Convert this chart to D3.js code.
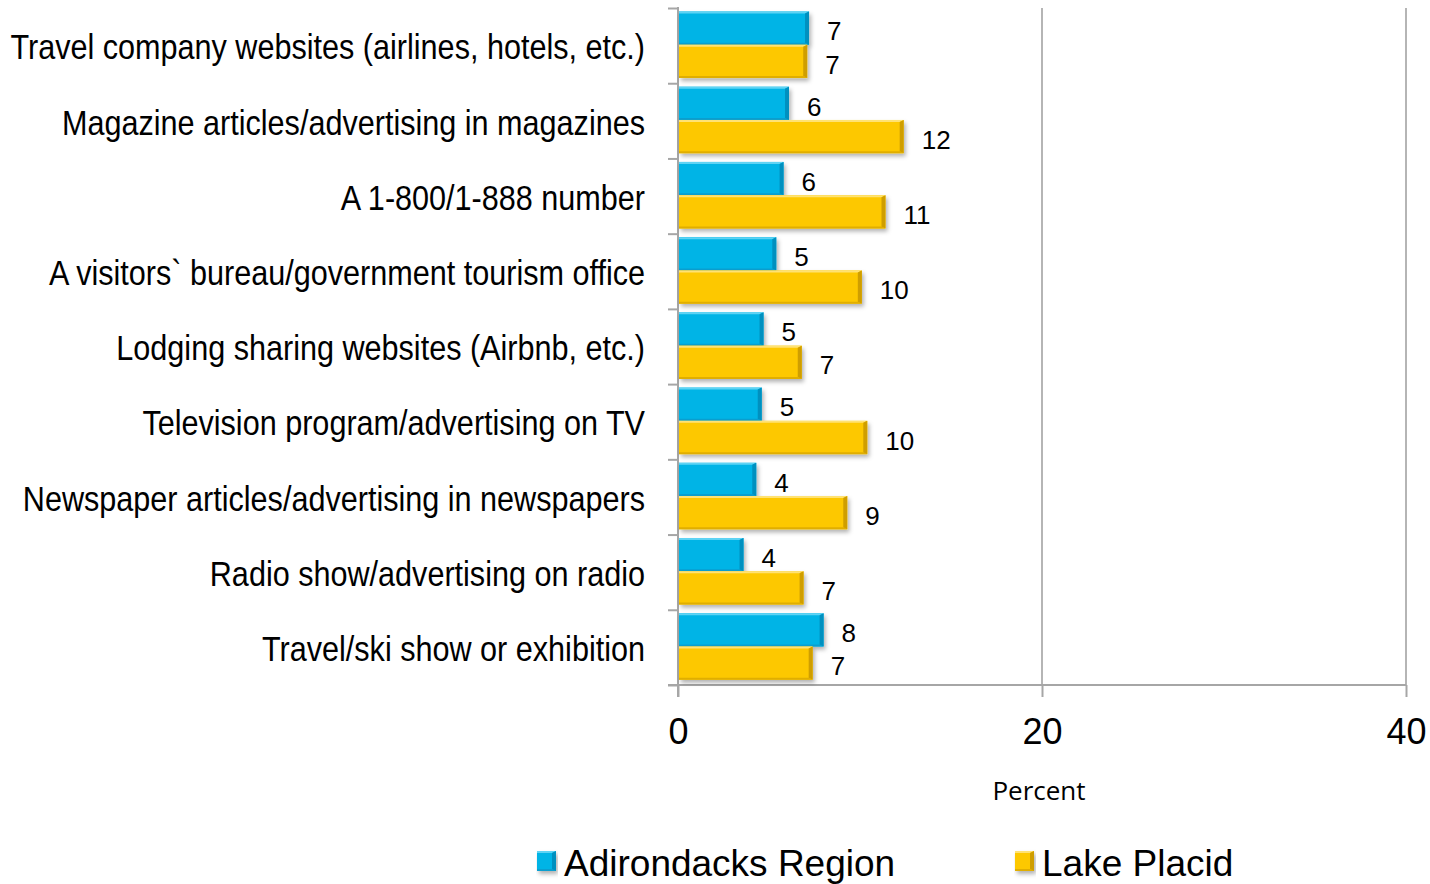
<!DOCTYPE html>
<html>
<head>
<meta charset="utf-8">
<script src="https://cdn.jsdelivr.net/npm/d3@7"></script>
<style>
  body { margin: 0; background: #fff; }
  svg { display: block; }
</style>
</head>
<body>
<svg id="chart" width="1430" height="884"></svg>
<script>
// Information sources used when planning a trip (percent of respondents)
const categories = [
  "Travel company websites (airlines, hotels, etc.)",
  "Magazine articles/advertising in magazines",
  "A 1-800/1-888 number",
  "A visitors` bureau/government tourism office",
  "Lodging sharing websites (Airbnb, etc.)",
  "Television program/advertising on TV",
  "Newspaper articles/advertising in newspapers",
  "Radio show/advertising on radio",
  "Travel/ski show or exhibition"
];
const seriesNames = ["Adirondacks Region", "Lake Placid"];
const adirondacks = [7.2, 6.1, 5.8, 5.4, 4.7, 4.6, 4.3, 3.6, 8];
const lakePlacid  = [7.1, 12.4, 11.4, 10.1, 6.8, 10.4, 9.3, 6.9, 7.4];
const xTicks = [0, 20, 40];
const axisTitle = "Percent";

const palette = {
  "Adirondacks Region": { base: "#00b4e6", light: "#5ed3f4", dark: "#0090bf", edge: "#0a9fd0" },
  "Lake Placid":        { base: "#fdc800", light: "#ffe273", dark: "#cf9e00", edge: "#e0ae00" }
};

const svg = d3.select("#chart");
const plot = { left: 678, right: 1406, top: 8, bottom: 685 };

const x = d3.scaleLinear().domain([0, 40]).range([plot.left, plot.right]);
const y = d3.scaleBand().domain(categories).range([plot.top, plot.bottom]).padding(0);
const ySub = d3.scaleBand().domain(seriesNames).range([0, y.bandwidth()])
  .paddingInner(0).paddingOuter(0.13).align(0.4);
const boundary = d3.scaleLinear().domain([0, categories.length]).range([plot.top, plot.bottom]);

const rows = categories.map((c, i) => ({
  category: c,
  values: [
    { series: seriesNames[0], value: adirondacks[i] },
    { series: seriesNames[1], value: lakePlacid[i] }
  ]
}));

// Drop shadow under the bevelled bars
const defs = svg.append("defs");
const shadow = defs.append("filter").attr("id", "barShadow")
  .attr("x", "-5%").attr("y", "-20%").attr("width", "115%").attr("height", "160%");
shadow.append("feDropShadow").attr("dx", 2).attr("dy", 3).attr("stdDeviation", 2)
  .attr("flood-color", "#000").attr("flood-opacity", 0.3);

// Gridlines
svg.append("g").selectAll("line").data(xTicks.filter(t => t > 0)).join("line")
  .attr("x1", d => x(d)).attr("x2", d => x(d))
  .attr("y1", plot.top).attr("y2", plot.bottom)
  .attr("stroke", "#b5b5b5").attr("stroke-width", 2);

// Bottom axis
const xAxis = svg.append("g").attr("transform", `translate(0,${plot.bottom})`)
  .call(d3.axisBottom(x).tickValues(xTicks).tickSize(12).tickPadding(21).tickSizeOuter(0));
xAxis.select(".domain").attr("stroke", "#a6a6a6").attr("stroke-width", 2)
  .attr("d", `M${plot.left - 10},0H${plot.right}`);
xAxis.selectAll(".tick line").attr("stroke", "#a6a6a6").attr("stroke-width", 2);
xAxis.selectAll(".tick text")
  .attr("fill", "#000")
  .style("font-family", "'Liberation Sans', Arial, sans-serif")
  .style("font-size", "36px");

// Left axis with ticks at the category boundaries
const yAxis = svg.append("g").attr("transform", `translate(${plot.left},0)`)
  .call(d3.axisLeft(boundary).tickValues(d3.range(categories.length + 1))
    .tickFormat("").tickSize(10).tickSizeOuter(0));
yAxis.select(".domain").attr("stroke", "#a6a6a6").attr("stroke-width", 2)
  .attr("d", `M0,${plot.top - 1}V${plot.bottom + 12}`);
yAxis.selectAll(".tick line").attr("stroke", "#a6a6a6").attr("stroke-width", 2);

// Category labels (condensed)
svg.append("g").selectAll("g").data(categories).join("g")
  .attr("transform", d => `translate(645,${y(d) + y.bandwidth() / 2}) scale(0.85,1)`)
  .append("text")
  .attr("text-anchor", "end")
  .attr("dy", "0.38em")
  .style("font-family", "'Liberation Sans', Arial, sans-serif")
  .style("font-size", "36px")
  .attr("fill", "#000")
  .text(d => d);

// Bevelled bar drawing
function drawBar(g, x0, y0, w, h, col) {
  const x1 = x0 + w, y1 = y0 + h, b = 4;
  g.append("rect").attr("x", x0).attr("y", y0).attr("width", w).attr("height", h)
    .attr("fill", col.base).attr("filter", "url(#barShadow)");
  // top highlight
  g.append("path").attr("d", `M${x0},${y0}H${x1}L${x1 - b},${y0 + 2}H${x0}Z`).attr("fill", col.light);
  // bottom edge
  g.append("path").attr("d", `M${x0},${y1}H${x1}L${x1 - b},${y1 - 2}H${x0}Z`).attr("fill", col.edge);
  // right bevel
  g.append("path").attr("d", `M${x1},${y0}V${y1}L${x1 - b},${y1 - 2}V${y0 + 2}Z`).attr("fill", col.dark);
}

const fmt = d3.format(".0f");
const groups = svg.append("g").selectAll("g").data(rows).join("g")
  .attr("transform", d => `translate(0,${y(d.category)})`);

groups.each(function (row) {
  const g = d3.select(this);
  row.values.forEach(v => {
    const by = ySub(v.series), bh = ySub.bandwidth();
    drawBar(g.append("g"), x(0) + 1, by, x(v.value) - x(0) - 1, bh, palette[v.series]);
    g.append("text")
      .attr("x", x(v.value) + 18)
      .attr("y", by + bh / 2)
      .attr("dy", "0.47em")
      .style("font-family", "'Liberation Sans', Arial, sans-serif")
      .style("font-size", "26px")
      .attr("fill", "#000")
      .text(fmt(v.value));
  });
});

// Axis title
svg.append("text")
  .attr("x", (plot.left + plot.right) / 2 - 3)
  .attr("y", 800)
  .attr("text-anchor", "middle")
  .style("font-family", "'Open Sans', 'Noto Sans', sans-serif")
  .style("font-size", "26px")
  .attr("fill", "#000")
  .text(axisTitle);

// Legend
const legendX = [537, 1015];
const legend = svg.append("g").selectAll("g").data(seriesNames).join("g")
  .attr("transform", (d, i) => `translate(${legendX[i]},851)`);
legend.each(function (d) {
  drawBar(d3.select(this), 0, 0, 19, 20, palette[d]);
});
legend.append("text")
  .attr("x", 27).attr("y", 25)
  .style("font-family", "'Liberation Sans', Arial, sans-serif")
  .style("font-size", "37px")
  .attr("fill", "#000")
  .text(d => d);
</script>
</body>
</html>
